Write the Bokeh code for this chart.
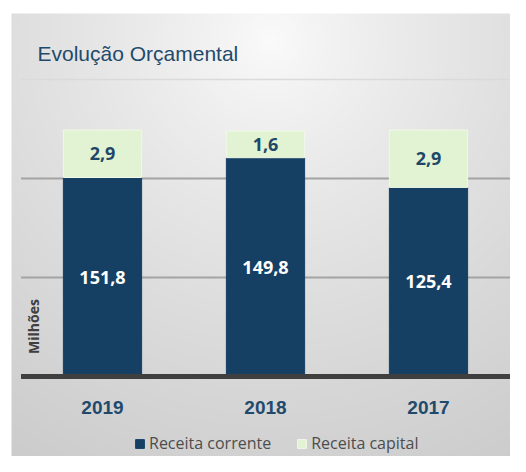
import numpy as np
from bokeh.plotting import figure
from bokeh.models import ColumnDataSource, Range1d, Label, Legend, LegendItem
from bokeh.core.properties import value
from bokeh.embed import file_html
from bokeh.resources import INLINE

# ---- data (bar heights, in chart units; labels as printed) ----
years = ["2019", "2018", "2017"]
corrente = [2.01, 2.21, 1.91]
capital = [0.48, 0.27, 0.58]
corrente_labels = ["151,8", "149,8", "125,4"]
capital_labels = ["2,9", "1,6", "2,9"]
grid_levels = [1, 2]
faint_grid_levels = [3]

# ---- layout constants (pixels) ----
W, H = 510, 456
PX_X = 163.0   # pixels per category
PX_Y = 99.0    # pixels per chart unit
X0 = 102.0     # pixel x of first category centre
BASE = 376.0   # pixel y (from top) of baseline

x_range = Range1d(-X0 / PX_X, (W - X0) / PX_X)
y_range = Range1d(-(H - BASE) / PX_Y, BASE / PX_Y)

p = figure(width=W, height=H, x_range=x_range, y_range=y_range,
           output_backend="svg", toolbar_location=None,
           x_axis_location=None, y_axis_location=None,
           min_border=0, outline_line_color=None,
           background_fill_color="white", border_fill_color="white")
p.grid.visible = False

# ---- background panel with soft gradient ----
yy, xx = np.mgrid[0:H, 0:W]
px = xx.astype(float)
py = yy.astype(float)
d = np.hypot(px - 270.0, (py - 40.0))
g = 251.0 - 48.0 * np.clip(d / 500.0, 0, 1) ** 0.8
g = np.where((px >= 11) & (py >= 13), g, 255.0)
g = np.flipud(g).astype(np.uint8)
img = np.empty((H, W), dtype=np.uint32)
view = img.view(dtype=np.uint8).reshape((H, W, 4))
view[:, :, 0] = g
view[:, :, 1] = g
view[:, :, 2] = g
view[:, :, 3] = 255
p.image_rgba(image=[img], x=x_range.start, y=y_range.start, dw=W / PX_X, dh=H / PX_Y)

n = len(years)
xs = list(range(n))
left_edge = -0.5
right_edge = n - 0.5

# separator under title (top faint gridline) and gridlines
p.segment(x0=[left_edge] * len(faint_grid_levels), x1=[right_edge] * len(faint_grid_levels),
          y0=faint_grid_levels, y1=faint_grid_levels, line_color="#dadada", line_width=1.5)
p.segment(x0=[left_edge] * len(grid_levels), x1=[right_edge] * len(grid_levels),
          y0=grid_levels, y1=grid_levels, line_color="#a3a3a3", line_width=2)

src = ColumnDataSource(dict(
    x=xs, corrente=corrente, capital=capital,
    cor_lab=corrente_labels, cap_lab=capital_labels,
    cor_mid=[c / 2 for c in corrente],
    cap_mid=[c + k / 2 for c, k in zip(corrente, capital)],
    year=years, year_y=[-31.0 / PX_Y] * n,
))

rs = p.vbar_stack(["corrente", "capital"], x="x", width=0.48, source=src,
                  color=["#163f64", "#e1f3d3"], line_color=["#163f64", "#f1f8ea"],
                  line_width=1)

# baseline
p.segment(x0=[left_edge], x1=[right_edge], y0=[0], y1=[0], line_color="#3f3f3f", line_width=5)

# value labels
p.text(x="x", y="cor_mid", text="cor_lab", source=src, text_align="center",
       text_baseline="middle", text_color="white", text_font=value("Open Sans"),
       text_font_style="bold", text_font_size="18px")
p.text(x="x", y="cap_mid", text="cap_lab", source=src, text_align="center",
       text_baseline="middle", text_color="#1f4868", text_font=value("Open Sans"),
       text_font_style="bold", text_font_size="18px")

# category labels
p.text(x="x", y="year_y", text="year", source=src, text_align="center",
       text_baseline="middle", text_color="#1f4a6c", text_font=value("Liberation Sans"),
       text_font_style="bold", text_font_size="19px")

# title
p.add_layout(Label(x=37, y=H - 53, x_units="screen", y_units="screen",
                   text="Evolução Orçamental", text_font="Liberation Sans",
                   text_font_size="21px", text_color="#1f4a6c",
                   text_baseline="alphabetic"))

# axis title
p.add_layout(Label(x=33, y=H - 326, x_units="screen", y_units="screen",
                   text="Milhões", angle=np.pi / 2, text_align="center",
                   text_baseline="middle", text_font="Open Sans",
                   text_font_style="bold", text_font_size="14px", text_color="#404040"))

legend = Legend(items=[LegendItem(label="Receita corrente", renderers=[rs[0]]),
                       LegendItem(label="Receita capital", renderers=[rs[1]])],
                orientation="horizontal", location=(134, 2),
                padding=0, margin=0, spacing=25, label_standoff=4,
                glyph_width=11, glyph_height=11, label_height=11,
                border_line_color=None, background_fill_alpha=0,
                label_text_font="Open Sans", label_text_font_size="16px",
                label_text_color="#4d4d4d")
p.add_layout(legend)

open("out.html", "w").write(file_html(p, INLINE))
